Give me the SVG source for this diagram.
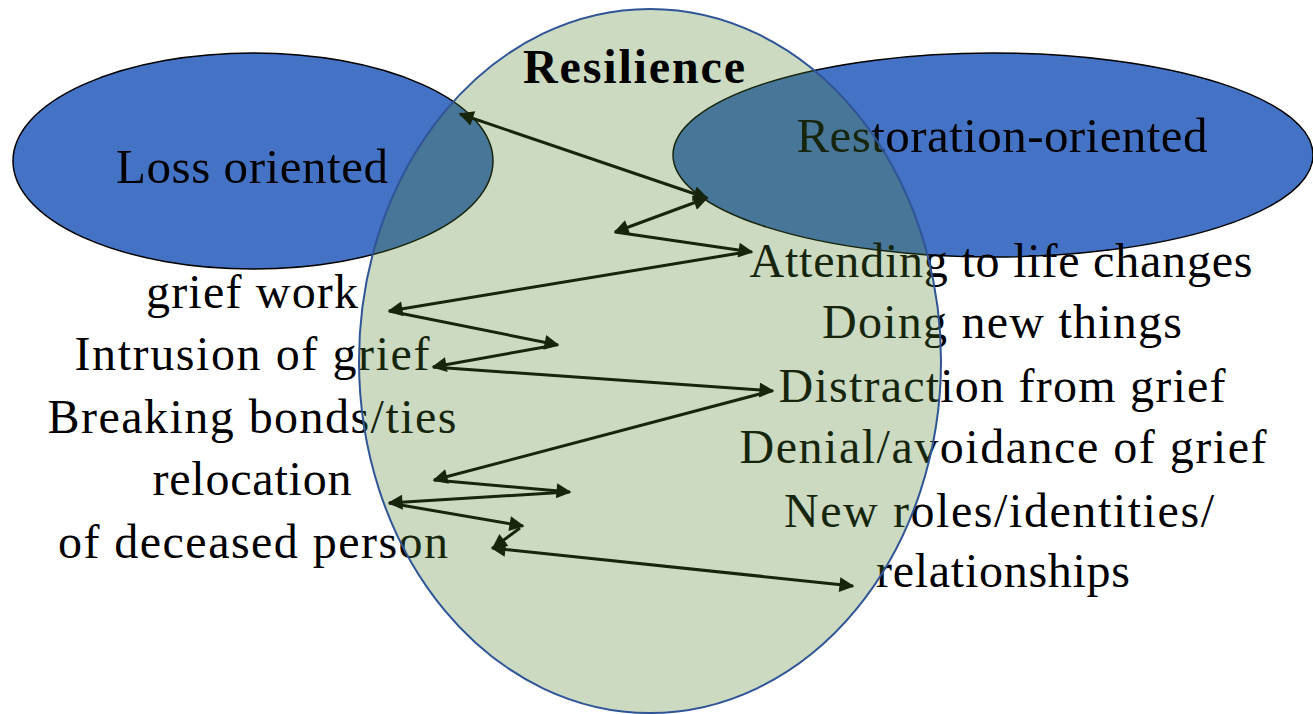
<svg xmlns="http://www.w3.org/2000/svg" width="1313" height="714" viewBox="0 0 1313 714">
  <style>
    .orient { fill: #4472C4; stroke: #000000; stroke-width: 1.5; }
    .zone { fill: rgb(78,128,44); fill-opacity: 0.29; stroke: #2F5597; stroke-width: 2; }
    .lbl { font-family: "Liberation Serif", "Times New Roman", serif; fill: #000000; text-anchor: middle; }
    .item { font-size: 48px; }
    .head { font-size: 49px; }
    .title { font-size: 48px; font-weight: bold; }
    .link { stroke: #000000; stroke-width: 3; fill: none; }
  </style>
  <defs>
    <marker id="tip" viewBox="0 0 10 10" refX="9" refY="5" markerUnits="userSpaceOnUse" markerWidth="18" markerHeight="15" orient="auto-start-reverse">
      <path d="M0,0 L10,5 L0,10 Z" fill="#000000"/>
    </marker>
  </defs>

  <rect width="1313" height="714" fill="#ffffff"/>

  <!-- the two orientations -->
  <g id="loss-oriented">
    <ellipse class="orient" cx="253" cy="161" rx="240" ry="108"/>
    <text class="lbl head" x="252" y="183" textLength="272">Loss oriented</text>
  </g>
  <g id="restoration-oriented">
    <ellipse class="orient" cx="993" cy="155" rx="320" ry="102"/>
    <text class="lbl head" x="1002" y="152" textLength="411">Restoration-oriented</text>
  </g>

  <!-- loss-oriented stressors -->
  <g id="loss-items">
    <text class="lbl item" x="252" y="308" textLength="212">grief work</text>
    <text class="lbl item" x="252" y="370" textLength="355">Intrusion of grief</text>
    <text class="lbl item" x="252" y="433" textLength="409">Breaking bonds/ties</text>
    <text class="lbl item" x="252" y="495" textLength="199">relocation</text>
    <text class="lbl item" x="253" y="558" textLength="390">of deceased person</text>
  </g>

  <!-- restoration-oriented stressors -->
  <g id="restoration-items">
    <text class="lbl item" x="1001" y="277" textLength="503">Attending to life changes</text>
    <text class="lbl item" x="1002" y="338" textLength="360">Doing new things</text>
    <text class="lbl item" x="1002" y="402" textLength="447">Distraction from grief</text>
    <text class="lbl item" x="1003" y="463" textLength="527">Denial/avoidance of grief</text>
    <text class="lbl item" x="999" y="527" textLength="430">New roles/identities/</text>
    <text class="lbl item" x="1003" y="587" textLength="254">relationships</text>
  </g>

  <!-- oscillation between the two orientations -->
  <g id="connectors">
    <line class="link" x1="460" y1="114" x2="707" y2="198" marker-start="url(#tip)" marker-end="url(#tip)"/>
    <line class="link" x1="707" y1="198" x2="615" y2="232" marker-start="url(#tip)" marker-end="url(#tip)"/>
    <line class="link" x1="615" y1="232" x2="752" y2="252" marker-end="url(#tip)"/>
    <line class="link" x1="740" y1="253" x2="389" y2="311" marker-end="url(#tip)"/>
    <line class="link" x1="389" y1="311" x2="558" y2="345" marker-end="url(#tip)"/>
    <line class="link" x1="556" y1="345" x2="433" y2="367" marker-end="url(#tip)"/>
    <line class="link" x1="433" y1="367" x2="773" y2="391" marker-end="url(#tip)"/>
    <line class="link" x1="771" y1="391" x2="434" y2="480" marker-end="url(#tip)"/>
    <line class="link" x1="434" y1="480" x2="570" y2="492" marker-end="url(#tip)"/>
    <line class="link" x1="568" y1="492" x2="389" y2="503" marker-end="url(#tip)"/>
    <line class="link" x1="389" y1="503" x2="523" y2="526" marker-end="url(#tip)"/>
    <line class="link" x1="520" y1="528" x2="493" y2="548" marker-end="url(#tip)"/>
    <line class="link" x1="492" y1="548" x2="853" y2="586" marker-start="url(#tip)" marker-end="url(#tip)"/>
  </g>

  <!-- resilience zone overlapping both orientations -->
  <g id="resilience">
    <ellipse class="zone" cx="650" cy="361" rx="291" ry="352"/>
    <text class="lbl title" x="634" y="83" textLength="222">Resilience</text>
  </g>
</svg>
